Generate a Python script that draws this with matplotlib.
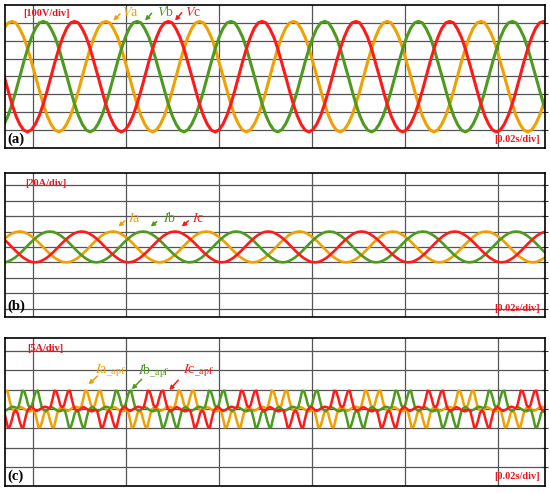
import numpy as np
import matplotlib.pyplot as plt

plt.rcParams['font.family'] = ['Liberation Serif', 'DejaVu Serif']
plt.rcParams['mathtext.fontset'] = 'stix'

# one cycle of each trace (vertical unit = divisions)
# phase voltage, 24 samples starting at the positive peak
v_cycle = [3.08, 3.0, 2.66, 2.2, 1.56, 0.8, 0.02, -0.78, -1.55, -2.2, -2.68, -3.0,
           -3.1, -2.98, -2.66, -2.18, -1.54, -0.8, 0.0, 0.82, 1.56, 2.2, 2.7, 3.0]
# grid current, 24 samples starting at the positive peak
i_cycle = [1.0, 0.97, 0.86, 0.7, 0.5, 0.26, 0.0, -0.26, -0.5, -0.7, -0.86, -0.97,
           -1.0, -0.97, -0.86, -0.71, -0.5, -0.26, 0.0, 0.26, 0.5, 0.71, 0.87, 0.97]
# APF current, 48 samples starting at the centre of the positive double hump
apf_cycle = [0.08, 0.20, 0.60, 0.92, 0.95, 0.50, 0.10, -0.05, -0.10, -0.05, 0.05, 0.10,
             0.05, -0.02, -0.08, -0.12, -0.10, -0.05, -0.10, -0.50, -0.95, -0.92, -0.60, -0.20,
             -0.08, -0.20, -0.60, -0.92, -0.95, -0.50, -0.10, 0.05, 0.10, 0.05, -0.05, -0.10,
             -0.05, 0.02, 0.08, 0.12, 0.10, 0.05, 0.10, 0.50, 0.95, 0.92, 0.60, 0.20]

# period (ms) and where each phase's cycle starts (ms), phases a, b, c
v_period = 20.17
v_start = [1.51, 8.24, 14.95]
i_period = 20.06
i_start = [3.15, 9.62, 16.5]
apf_start = [18.9, 5.4, 12.3]

colors = ['#F0A000', '#4E9A1E', '#FF1A1A']
t_end = 116.13
grid_x = np.arange(6.02, t_end, 20)


def trace(cycle, period, start, n=8):
    dt = period / len(cycle)
    t = start + (np.arange(n * len(cycle)) - len(cycle)) * dt
    return t, np.tile(cycle, n)


def setup(ax, ylim, ygrid):
    ax.set_xlim(0, t_end)
    ax.set_ylim(*ylim)
    ax.set_xticks(grid_x)
    ax.set_yticks(ygrid)
    ax.yaxis.tick_right()
    ax.tick_params(axis='x', length=0, labelbottom=False)
    ax.tick_params(axis='y', direction='inout', length=4, width=0.8,
                   labelright=False, color='#333333')
    ax.grid(True, color='#555555', lw=0.9)
    ax.set_axisbelow(True)
    for s in ax.spines.values():
        s.set_linewidth(1.2)


def arrow(ax, start, end, c):
    ax.annotate('', xy=end, xytext=start,
                arrowprops=dict(arrowstyle='-|>', color=c, lw=1.1,
                                mutation_scale=6, shrinkA=0, shrinkB=0))


fig = plt.figure(figsize=(5.5, 4.93), dpi=100)
ax_a = fig.add_axes([0.00909, 0.6998, 0.9818, 0.2901])
ax_b = fig.add_axes([0.00909, 0.3570, 0.9818, 0.2921])
ax_c = fig.add_axes([0.00909, 0.0142, 0.9818, 0.3002])

setup(ax_a, (-4, 4), range(-3, 4))
setup(ax_b, (-4.55, 4.8), range(-4, 5))
setup(ax_c, (-3.99, 3.68), range(-3, 4))

for k in range(3):
    t, y = trace(v_cycle, v_period, v_start[k])
    ax_a.plot(t, y, color=colors[k], lw=2.2)
    t, y = trace(i_cycle, i_period, i_start[k])
    ax_b.plot(t, y, color=colors[k], lw=1.9)
    t, y = trace(apf_cycle, i_period, apf_start[k])
    ax_c.plot(t, y, color=colors[k], lw=1.8)

unit_kw = dict(color='#E8161E', fontsize=7.5, fontweight='bold', va='center')
tag_kw = dict(color='black', fontsize=10.5, fontweight='bold', va='center')
lab_kw = dict(fontsize=10, va='center')

# (a) phase voltages
ax_a.text(3.87, 3.5, '[100V/div]', **unit_kw)
ax_a.text(115.05, -3.55, '[0.02s/div]', ha='right', **unit_kw)
ax_a.text(0.43, -3.5, '(a)', **tag_kw)
for name, tx, a0, a1, c in [('a', 25.16, (24.73, 3.50), (23.29, 3.12), colors[0]),
                            ('b', 32.69, (31.55, 3.54), (30.11, 3.12), colors[1]),
                            ('c', 38.71, (38.0, 3.57), (36.56, 3.12), colors[2])]:
    ax_a.text(tx, 3.59, '$V$' + name, color=c, **lab_kw)
    arrow(ax_a, a0, a1, c)

# (b) grid currents
ax_b.text(4.3, 4.09, '[20A/div]', **unit_kw)
ax_b.text(115.05, -3.98, '[0.02s/div]', ha='right', **unit_kw)
ax_b.text(0.43, -3.88, '(b)', **tag_kw)
for name, tx, a0, a1, c in [('a', 26.45, (25.81, 1.69), (24.37, 1.32), colors[0]),
                            ('b', 33.98, (32.62, 1.64), (31.33, 1.32), colors[1]),
                            ('c', 40.22, (39.42, 1.69), (38.0, 1.32), colors[2])]:
    ax_b.text(tx, 1.86, '$I$' + name, color=c, **lab_kw)
    arrow(ax_b, a0, a1, c)

# (c) APF currents
ax_c.text(4.73, 3.14, '[5A/div]', **unit_kw)
ax_c.text(115.05, -3.51, '[0.02s/div]', ha='right', **unit_kw)
ax_c.text(0.43, -3.46, '(c)', **tag_kw)
for name, tx, a0, a1, c in [('a', 19.35, (19.94, 1.71), (17.91, 1.28), colors[0]),
                            ('b', 28.6, (29.4, 1.54), (27.25, 1.02), colors[1]),
                            ('c', 38.28, (37.27, 1.50), (35.33, 0.98), colors[2])]:
    ax_c.text(tx, 1.97, '$I$' + name + r'$_{\mathrm{\_apf}}$', color=c, **lab_kw)
    arrow(ax_c, a0, a1, c)

fig.savefig('out.png', dpi=100)
